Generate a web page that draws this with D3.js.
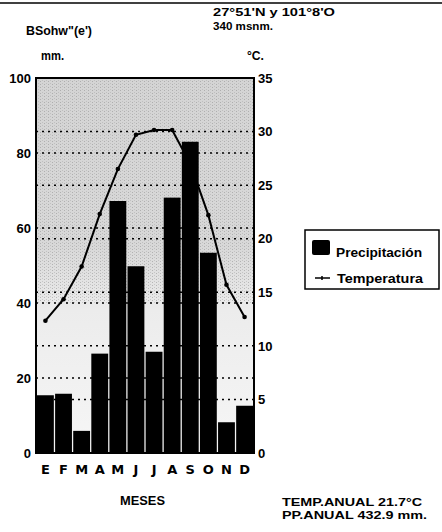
<!DOCTYPE html>
<html>
<head>
<meta charset="utf-8">
<script src="https://cdn.jsdelivr.net/npm/d3@7"></script>
<style>
  body { margin: 0; background: #fff; }
  svg { display: block; font-family: "Liberation Sans", Arial, sans-serif; font-weight: bold; }
</style>
</head>
<body>
<div id="chart"></div>
<script>
const months = ["E", "F", "M", "A", "M", "J", "J", "A", "S", "O", "N", "D"];
const precip = [15.4, 15.8, 5.9, 26.5, 67.2, 49.8, 27.0, 68.1, 83.0, 53.4, 8.2, 12.6];
const temp = [12.35, 14.35, 17.4, 22.3, 26.5, 29.7, 30.15, 30.15, 27.0, 22.2, 15.7, 12.7];
const mmTicks = [0, 20, 40, 60, 80, 100];
const cTicks = [0, 5, 10, 15, 20, 25, 30, 35];

const width = 442, height = 532;
const plot = { left: 36, right: 254, top: 78, bottom: 453 };

const svg = d3.select("#chart")
    .append("svg")
    .attr("width", width)
    .attr("height", height);

const defs = svg.append("defs");
const grad = defs.append("linearGradient")
    .attr("id", "bg").attr("x1", 0).attr("y1", 0).attr("x2", 0).attr("y2", 1);
grad.append("stop").attr("offset", "0%").attr("stop-color", "#d4d4d4");
grad.append("stop").attr("offset", "45%").attr("stop-color", "#d8d8d8");
grad.append("stop").attr("offset", "62%").attr("stop-color", "#ececec");
grad.append("stop").attr("offset", "100%").attr("stop-color", "#f6f6f6");

const pat = defs.append("pattern")
    .attr("id", "dots").attr("width", 4).attr("height", 3)
    .attr("patternUnits", "userSpaceOnUse");
pat.append("rect").attr("x", 0).attr("y", 0).attr("width", 1).attr("height", 1).attr("fill", "#888");
pat.append("rect").attr("x", 2).attr("y", 2).attr("width", 1).attr("height", 1).attr("fill", "#aaa");

const x = d3.scaleBand()
    .domain(d3.range(months.length))
    .range([plot.left + 1, plot.right - 1])
    .paddingInner(0.07);

const yP = d3.scaleLinear()
    .domain([0, 100])
    .range([plot.bottom, plot.top]);

const yT = d3.scaleLinear()
    .domain([0, 35])
    .range([plot.bottom, plot.top]);

// scan rule at the top
svg.append("line")
    .attr("x1", 0).attr("x2", width).attr("y1", 3).attr("y2", 3)
    .attr("stroke", "#000").attr("stroke-width", 1.5);

// background of the plot
svg.append("rect")
    .attr("x", plot.left).attr("y", plot.top)
    .attr("width", plot.right - plot.left).attr("height", plot.bottom - plot.top)
    .attr("fill", "url(#bg)");
svg.append("rect")
    .attr("x", plot.left).attr("y", plot.top)
    .attr("width", plot.right - plot.left).attr("height", (plot.bottom - plot.top) * 0.6)
    .attr("fill", "url(#dots)").attr("opacity", 0.5);

// dotted grid lines for both axes
const gridY = mmTicks.filter(v => v > 0 && v < 100).map(v => yP(v))
    .concat(cTicks.filter(v => v > 0 && v < 35).map(v => yT(v)));

svg.append("g")
    .selectAll("line")
    .data(gridY)
    .join("line")
    .attr("x1", plot.left).attr("x2", plot.right)
    .attr("y1", d => d).attr("y2", d => d)
    .attr("stroke", "#000")
    .attr("stroke-width", 1.5)
    .attr("stroke-dasharray", "2,4");

// precipitation bars
svg.append("g")
    .selectAll("rect")
    .data(precip)
    .join("rect")
    .attr("x", (d, i) => x(i))
    .attr("y", d => yP(d))
    .attr("width", x.bandwidth())
    .attr("height", d => yP(0) - yP(d))
    .attr("fill", "#000");

// temperature line
const line = d3.line()
    .x((d, i) => x(i) + x.bandwidth() / 2)
    .y(d => yT(d));

svg.append("path")
    .datum(temp)
    .attr("d", line)
    .attr("fill", "none")
    .attr("stroke", "#000")
    .attr("stroke-width", 2);

svg.append("g")
    .selectAll("circle")
    .data(temp)
    .join("circle")
    .attr("cx", (d, i) => x(i) + x.bandwidth() / 2)
    .attr("cy", d => yT(d))
    .attr("r", 2.3)
    .attr("fill", "#000");

// frame
svg.append("rect")
    .attr("x", plot.left).attr("y", plot.top)
    .attr("width", plot.right - plot.left).attr("height", plot.bottom - plot.top)
    .attr("fill", "none").attr("stroke", "#000").attr("stroke-width", 2);

// axes
function yAxisLeft(g) {
    g.attr("transform", `translate(${plot.left},0)`)
        .call(d3.axisLeft(yP).tickValues(mmTicks).tickSize(0).tickPadding(5))
        .call(g => g.select(".domain").remove())
        .attr("font-size", "13px").attr("font-family", null).attr("font-weight", "bold");
}

function yAxisRight(g) {
    g.attr("transform", `translate(${plot.right},0)`)
        .call(d3.axisRight(yT).tickValues(cTicks).tickSize(0).tickPadding(4))
        .call(g => g.select(".domain").remove())
        .attr("font-size", "13px").attr("font-family", null).attr("font-weight", "bold");
}

function xAxis(g) {
    g.attr("transform", `translate(0,${plot.bottom})`)
        .call(d3.axisBottom(x).tickFormat(i => months[i]).tickSize(0).tickPadding(12))
        .call(g => g.select(".domain").remove())
        .attr("font-size", "13px").attr("font-family", "DejaVu Sans").attr("font-weight", "bold");
}

svg.append("g").call(yAxisLeft);
svg.append("g").call(yAxisRight);
svg.append("g").call(xAxis);
svg.selectAll(".tick text").attr("fill", "#000");

// texts (w = measured width in the picture)
const texts = [
    { t: "27°51'N y 101°8'O", x: 213, y: 16, s: 11, w: 122 },
    { t: "340 msnm.", x: 213, y: 30, s: 11, w: 60 },
    { t: "BSohw\"(e')", x: 26, y: 35, s: 12, w: 66 },
    { t: "mm.", x: 41, y: 60, s: 12, w: 23 },
    { t: "°C.", x: 247, y: 60, s: 12, w: 17 },
    { t: "MESES", x: 120, y: 505, s: 13, w: 45 },
    { t: "TEMP.ANUAL 21.7°C", x: 282, y: 506, s: 10.5, w: 140 },
    { t: "PP.ANUAL 432.9 mm.", x: 282, y: 519, s: 10.5, w: 145 }
];
svg.append("g")
    .selectAll("text")
    .data(texts)
    .join("text")
    .attr("x", d => d.x).attr("y", d => d.y)
    .attr("font-size", d => d.s + "px")
    .attr("textLength", d => d.w)
    .attr("lengthAdjust", "spacingAndGlyphs")
    .text(d => d.t);

// legend
const legend = svg.append("g");
legend.append("rect")
    .attr("x", 305).attr("y", 230).attr("width", 134).attr("height", 59)
    .attr("fill", "#fff").attr("stroke", "#000").attr("stroke-width", 1.5);
legend.append("rect")
    .attr("x", 312).attr("y", 240).attr("width", 18).attr("height", 15).attr("rx", 2)
    .attr("fill", "#000");
legend.append("text").attr("x", 336).attr("y", 257).attr("font-size", "12px")
    .attr("textLength", 86).attr("lengthAdjust", "spacingAndGlyphs").text("Precipitación");
legend.append("line")
    .attr("x1", 315).attr("x2", 330).attr("y1", 278).attr("y2", 278)
    .attr("stroke", "#000").attr("stroke-width", 1.5);
legend.append("line")
    .attr("x1", 322).attr("x2", 322).attr("y1", 276).attr("y2", 280)
    .attr("stroke", "#000").attr("stroke-width", 1.5);
legend.append("text").attr("x", 337).attr("y", 283).attr("font-size", "12px")
    .attr("textLength", 86).attr("lengthAdjust", "spacingAndGlyphs").text("Temperatura");
</script>
</body>
</html>
